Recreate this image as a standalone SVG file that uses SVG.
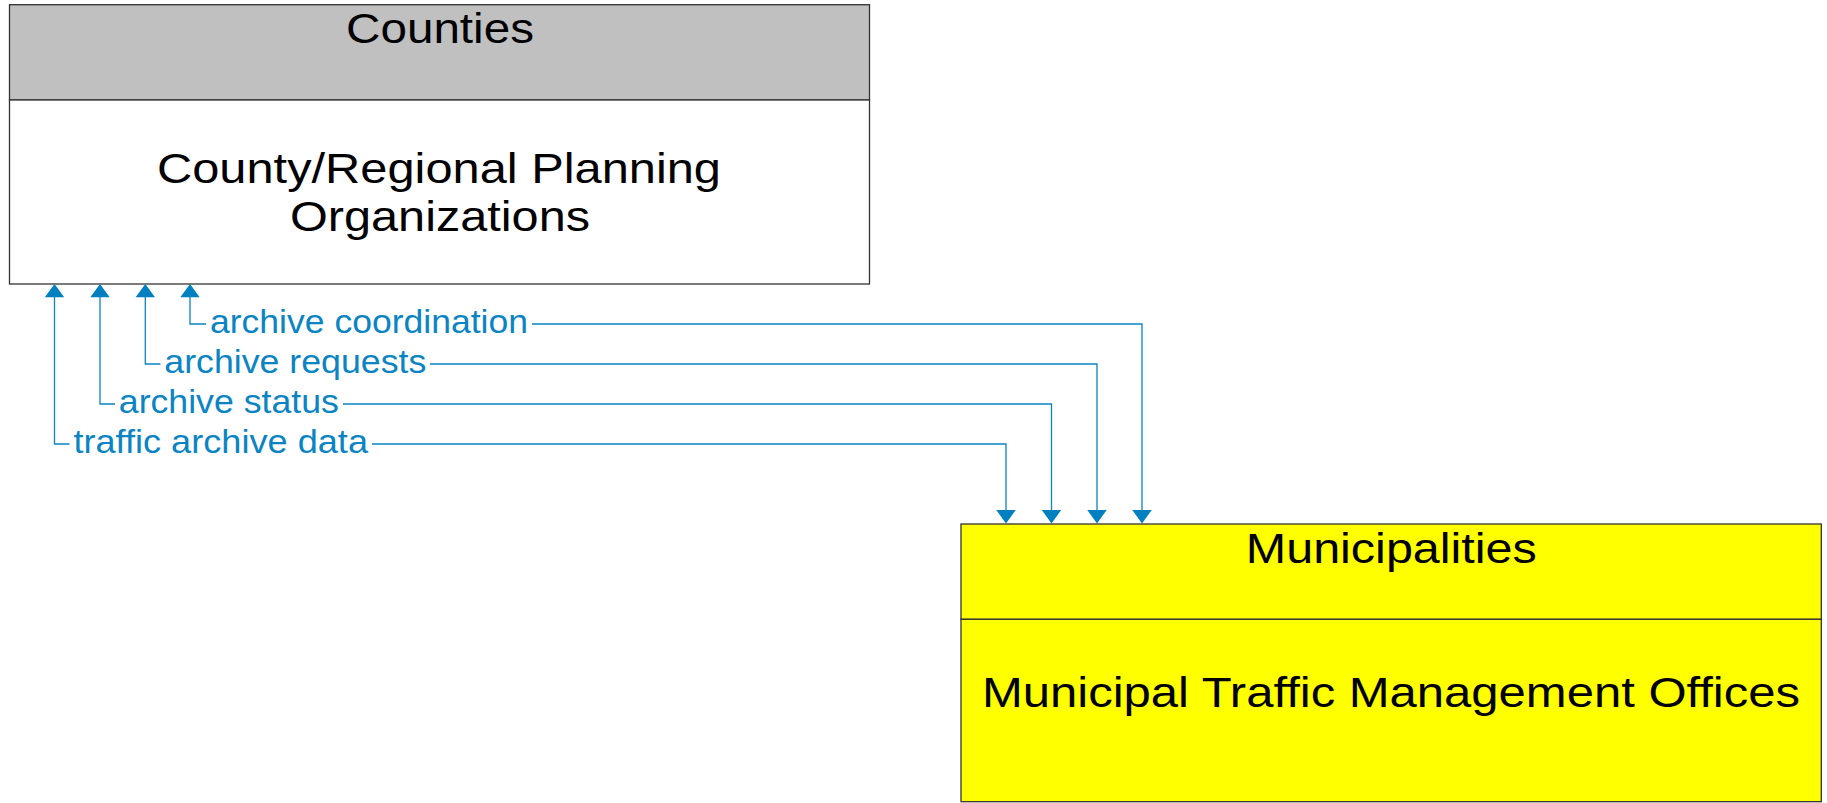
<svg xmlns="http://www.w3.org/2000/svg" width="1827" height="803" viewBox="0 0 1827 803">
<defs>
<style>
.box{stroke:#333333;stroke-width:1.3}
.title{font-family:"Liberation Sans",Arial,sans-serif;font-size:43px;fill:#000000}
.conn{fill:none;stroke:#0B84C4;stroke-width:1.3}
.lbl{font-family:"Liberation Sans",Arial,sans-serif;font-size:33px;fill:#0B84C4}
.ah{fill:#0080C0}
</style>
</defs>
<rect width="1827" height="803" fill="#ffffff"/>
<g id="node-counties">
<rect class="box" x="9.5" y="4.7" width="860" height="95.3" fill="#C0C0C0"/>
<rect class="box" x="9.5" y="100" width="860" height="184" fill="#FFFFFF"/>
<text class="title" x="440" y="43.3" text-anchor="middle" textLength="188" lengthAdjust="spacingAndGlyphs">Counties</text>
<text class="title" x="439" y="183.3" text-anchor="middle" textLength="564" lengthAdjust="spacingAndGlyphs">County/Regional Planning</text>
<text class="title" x="440" y="230.7" text-anchor="middle" textLength="300" lengthAdjust="spacingAndGlyphs">Organizations</text>
</g>
<g id="node-municipalities">
<rect class="box" x="961" y="524" width="860.3" height="95.3" fill="#FFFF00"/>
<rect class="box" x="961" y="619.3" width="860.3" height="182.4" fill="#FFFF00"/>
<text class="title" x="1391.3" y="562.7" text-anchor="middle" textLength="291" lengthAdjust="spacingAndGlyphs">Municipalities</text>
<text class="title" x="1391" y="706.7" text-anchor="middle" textLength="818" lengthAdjust="spacingAndGlyphs">Municipal Traffic Management Offices</text>
</g>
<g id="connectors">
<g id="conn-archive-coordination">
<path class="conn" d="M190,297 V324 H206 M532,324 H1142 V510"/>
<polygon class="ah" points="190,284 180.3,297.3 199.7,297.3"/>
<polygon class="ah" points="1142,523.5 1132.3,510 1151.7,510"/>
<text class="lbl" x="210" y="333.3" textLength="318" lengthAdjust="spacingAndGlyphs">archive coordination</text>
</g>
<g id="conn-archive-requests">
<path class="conn" d="M145.3,297 V364 H160.5 M430,364 H1097 V510"/>
<polygon class="ah" points="145.3,284 135.6,297.3 155,297.3"/>
<polygon class="ah" points="1097,523.5 1087.3,510 1106.7,510"/>
<text class="lbl" x="164.3" y="373.3" textLength="262" lengthAdjust="spacingAndGlyphs">archive requests</text>
</g>
<g id="conn-archive-status">
<path class="conn" d="M100,297 V404 H115 M343,404 H1051.5 V510"/>
<polygon class="ah" points="100,284 90.3,297.3 109.7,297.3"/>
<polygon class="ah" points="1051.5,523.5 1041.8,510 1061.2,510"/>
<text class="lbl" x="118.8" y="413.3" textLength="220" lengthAdjust="spacingAndGlyphs">archive status</text>
</g>
<g id="conn-traffic-archive-data">
<path class="conn" d="M54.5,297 V444 H69.5 M372,444 H1006 V510"/>
<polygon class="ah" points="54.5,284 44.8,297.3 64.2,297.3"/>
<polygon class="ah" points="1006,523.5 996.3,510 1015.7,510"/>
<text class="lbl" x="73.4" y="453.3" textLength="294.6" lengthAdjust="spacingAndGlyphs">traffic archive data</text>
</g>
</g>
</svg>
